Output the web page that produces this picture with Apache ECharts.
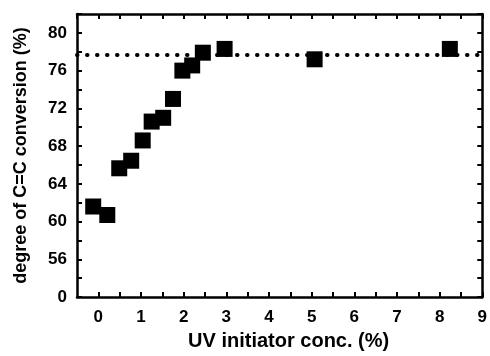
<!DOCTYPE html>
<html>
<head>
<meta charset="utf-8">
<script src="https://cdn.jsdelivr.net/npm/echarts@6/dist/echarts.min.js"></script>
<style>
  html, body { margin: 0; padding: 0; background: #fff; }
  #chart { width: 490px; height: 356px; }
</style>
</head>
<body>
<div id="chart"></div>
<script>
// UV initiator concentration (%) and C=C conversion (%)
const concX = [-0.12, 0.21, 0.49, 0.77, 1.04, 1.25, 1.52, 1.75, 1.97, 2.2, 2.45, 2.96, 5.07, 8.24];
const conversionY = [61.6, 60.7, 65.65, 66.45, 68.6, 70.6, 71.0, 73.0, 76.0, 76.55, 77.9, 78.3, 77.2, 78.3];
const plateauLevel = 77.7;
// y axis is broken: the bottom tick stands for 0
const yBreakValue = 52;

const chart = echarts.init(document.getElementById("chart"));
const font = "Arial, 'Liberation Sans', sans-serif";

const axisLine = { show: true, onZero: false, lineStyle: { color: "#000", width: 2.5 } };
const tick = { show: true, inside: true, length: 5, lineStyle: { color: "#000", width: 2 } };

const xBase = { type: "value", min: -0.5, max: 9, interval: 0.5, splitLine: { show: false }, axisLine: axisLine, axisTick: tick };
const yBase = { type: "value", min: 52, max: 82, interval: 2, splitLine: { show: false }, axisLine: axisLine, axisTick: tick };

const option = {
  animation: false,
  grid: { left: 77, right: 3, top: 14, bottom: 56 },
  xAxis: [
    Object.assign({}, xBase, {
      position: "bottom",
      name: "UV initiator conc. (%)",
      nameLocation: "middle",
      nameGap: 31,
      nameTextStyle: { fontFamily: font, fontSize: 20, fontWeight: "bold", color: "#000", padding: [0, 0, 0, 18] },
      axisLabel: {
        margin: 12,
        fontFamily: font, fontSize: 17, fontWeight: "bold", color: "#000",
        showMinLabel: false,
        formatter: function (v) { return Number.isInteger(v) ? String(v) : ""; }
      }
    }),
    Object.assign({}, xBase, { position: "top", axisLabel: { show: false } })
  ],
  yAxis: [
    Object.assign({}, yBase, {
      position: "left",
      name: "degree of C=C conversion (%)",
      nameLocation: "middle",
      nameGap: 47,
      nameTextStyle: { fontFamily: font, fontSize: 18, fontWeight: "bold", color: "#000" },
      axisLabel: {
        margin: 10,
        fontFamily: font, fontSize: 17, fontWeight: "bold", color: "#000",
        formatter: function (v) {
          if (v === yBreakValue) return "0";
          return v % 4 === 0 ? String(v) : "";
        }
      }
    }),
    Object.assign({}, yBase, { position: "right", axisLabel: { show: false } })
  ],
  series: [
    {
      type: "scatter",
      symbol: "rect",
      symbolSize: 16,
      itemStyle: { color: "#000", opacity: 1 },
      data: concX.map((x, i) => [x, conversionY[i]]),
      markLine: {
        silent: true,
        symbol: "none",
        label: { show: false },
        lineStyle: { color: "#000", width: 4, type: [0.5, 9.5], cap: "round" },
        data: [{ yAxis: plateauLevel }]
      }
    }
  ]
};

chart.setOption(option);
</script>
</body>
</html>
